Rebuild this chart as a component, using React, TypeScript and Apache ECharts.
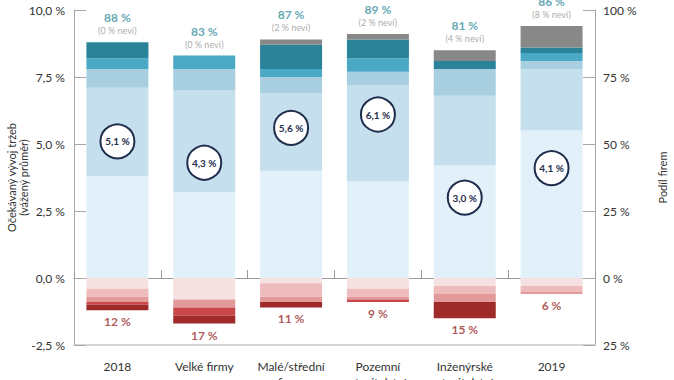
import React, { useEffect, useRef } from "react";
import * as echarts from "echarts";

const categories = [
  "2018",
  "Velké firmy",
  "Malé/střední\nfirmy",
  "Pozemní\nstavitelství",
  "Inženýrské\nstavitelství",
  "2019",
];

// share of firms (%) expecting growth, by band (lightest -> darkest)
const growth1 = [38, 32, 40, 36, 42, 55];
const growth2 = [33, 38, 29, 36, 26, 23];
const growth3 = [7, 8, 6, 5, 10, 3];
const growth4 = [4, 5, 3, 5, 0, 3];
const growth5 = [6, 0, 9, 7, 3, 2];
const dontKnow = [0, 0, 2, 2, 4, 8];

// share of firms (%) expecting decline, by band (lightest -> darkest)
const decline1 = [4, 8, 2, 4, 3, 3];
const decline2 = [3, 0, 5, 3, 3, 2];
const decline3 = [2, 3, 2, 1, 3, 1];
const decline4 = [1, 3, 0, 1, 0, 0];
const decline5 = [2, 3, 2, 0, 6, 0];

const positiveTotal = [88, 83, 87, 89, 81, 86];
const negativeTotal = [12, 17, 11, 9, 15, 6];

// weighted average expected revenue change (%)
const weightedAvg = [5.1, 4.3, 5.6, 6.1, 3.0, 4.1];

const leftTicks = { min: -2.5, max: 10, interval: 2.5 };
const rightTicks = { min: -25, max: 100, interval: 25 };

const FONT = "Lato, 'Noto Sans', sans-serif";
const posColors = ["#e2f1f9", "#c5dfed", "#a7cfe0", "#4ba9c6", "#2a8399"];
const negColors = ["#f5e1e1", "#eebcbd", "#e29a9a", "#c9474a", "#9e2a2a"];
const greyColor = "#888888";

export default function App() {
  const ref = useRef<HTMLDivElement>(null);

  useEffect(() => {
    if (!ref.current) return;
    const chart = echarts.init(ref.current, undefined, { renderer: "svg" });

    const barBase = {
      type: "bar" as const,
      stack: "total",
      xAxisIndex: 0,
      yAxisIndex: 1,
      barWidth: 62,
    };
    const growth = [growth1, growth2, growth3, growth4, growth5];
    const decline = [decline1, decline2, decline3, decline4, decline5];

    const series: any[] = [];
    growth.forEach((d, i) =>
      series.push({ ...barBase, name: "růst " + (i + 1), data: d, itemStyle: { color: posColors[i] } })
    );
    series.push({ ...barBase, name: "neví", data: dontKnow, itemStyle: { color: greyColor } });
    decline.forEach((d, i) =>
      series.push({
        ...barBase,
        name: "pokles " + (i + 1),
        data: d.map((v) => -v),
        itemStyle: { color: negColors[i] },
      })
    );

    series.push({
      type: "scatter",
      xAxisIndex: 0,
      yAxisIndex: 1,
      symbolSize: 1,
      itemStyle: { color: "transparent" },
      data: positiveTotal.map((v, i) => v + dontKnow[i]),
      label: {
        show: true,
        position: "top",
        distance: 5,
        formatter: (p: any) =>
          `{a|${positiveTotal[p.dataIndex]} %}\n{b|(${dontKnow[p.dataIndex]} % neví)}`,
        rich: {
          a: { fontFamily: FONT, fontSize: 12, fontWeight: "bold", color: "#3a90a0", lineHeight: 14, align: "center" },
          b: { fontFamily: FONT, fontSize: 9, color: "#949494", lineHeight: 12, align: "center" },
        },
      },
      z: 5,
    });

    series.push({
      type: "scatter",
      xAxisIndex: 0,
      yAxisIndex: 1,
      symbolSize: 1,
      itemStyle: { color: "transparent" },
      data: negativeTotal.map((v) => -v),
      label: {
        show: true,
        position: "bottom",
        distance: 5,
        formatter: (p: any) => `${negativeTotal[p.dataIndex]} %`,
        fontFamily: FONT,
        fontSize: 12,
        fontWeight: "bold",
        color: "#9b2d2d",
      },
      z: 5,
    });

    series.push({
      type: "scatter",
      xAxisIndex: 0,
      yAxisIndex: 0,
      symbol: "circle",
      symbolSize: 34,
      data: weightedAvg,
      itemStyle: { color: "#ffffff", borderColor: "#1f2d4d", borderWidth: 2, opacity: 1 },
      label: {
        show: true,
        position: "inside",
        formatter: (p: any) => p.value.toFixed(1).replace(".", ",") + " %",
        fontFamily: FONT,
        fontSize: 10,
        fontWeight: "bold",
        color: "#1f2d4d",
      },
      z: 10,
    });

    chart.setOption({
      animation: false,
      grid: { left: 74, right: 79, top: 10, bottom: 35, containLabel: false, outerBoundsMode: "none" },
      xAxis: [
        {
          type: "category",
          data: categories,
          position: "bottom",
          axisLine: { onZero: false, lineStyle: { color: "#c8c8c8", width: 1.5 } },
          axisTick: { show: false },
          axisLabel: {
            fontFamily: FONT,
            fontSize: 12,
            color: "#333333",
            margin: 13,
            lineHeight: 16,
            interval: 0,
          },
        },
        {
          type: "category",
          data: categories,
          position: "bottom",
          axisLine: { onZero: true, onZeroAxisIndex: 0, lineStyle: { color: "#9a9a9a", width: 1 } },
          axisTick: { show: true, inside: true, length: 8, lineStyle: { color: "#9a9a9a" } },
          axisLabel: { show: false },
          splitLine: { show: false },
        },
      ],
      yAxis: [
        {
          type: "value",
          position: "left",
          ...leftTicks,
          name: "Očekávaný vývoj tržeb\n(vážený průměr)",
          nameLocation: "middle",
          nameRotate: 90,
          nameGap: 45,
          nameMoveOverlap: false,
          nameTextStyle: { fontFamily: FONT, fontSize: 11, color: "#333333", lineHeight: 12 },
          axisLine: { show: true, lineStyle: { color: "#a8a8a8" } },
          axisTick: { show: true, inside: true, length: 12, lineStyle: { color: "#a8a8a8" } },
          splitLine: { show: false },
          axisLabel: {
            fontFamily: FONT,
            fontSize: 12,
            color: "#333333",
            margin: 9,
            formatter: (v: number) => v.toFixed(1).replace(".", ",") + " %",
          },
        },
        {
          type: "value",
          position: "right",
          ...rightTicks,
          name: "Podíl firem",
          nameLocation: "middle",
          nameRotate: 90,
          nameGap: 62,
          nameMoveOverlap: false,
          nameTextStyle: { fontFamily: FONT, fontSize: 11, color: "#333333" },
          axisLine: { show: true, lineStyle: { color: "#a8a8a8" } },
          axisTick: { show: true, inside: true, length: 12, lineStyle: { color: "#a8a8a8" } },
          splitLine: { show: false },
          axisLabel: {
            fontFamily: FONT,
            fontSize: 12,
            color: "#333333",
            margin: 8,
            formatter: (v: number) => Math.abs(v) + " %",
          },
        },
      ],
      series,
    });

    return () => chart.dispose();
  }, []);

  return <div ref={ref} style={{ width: 674, height: 380, position: "absolute", left: 0, top: 0 }} />;
}
